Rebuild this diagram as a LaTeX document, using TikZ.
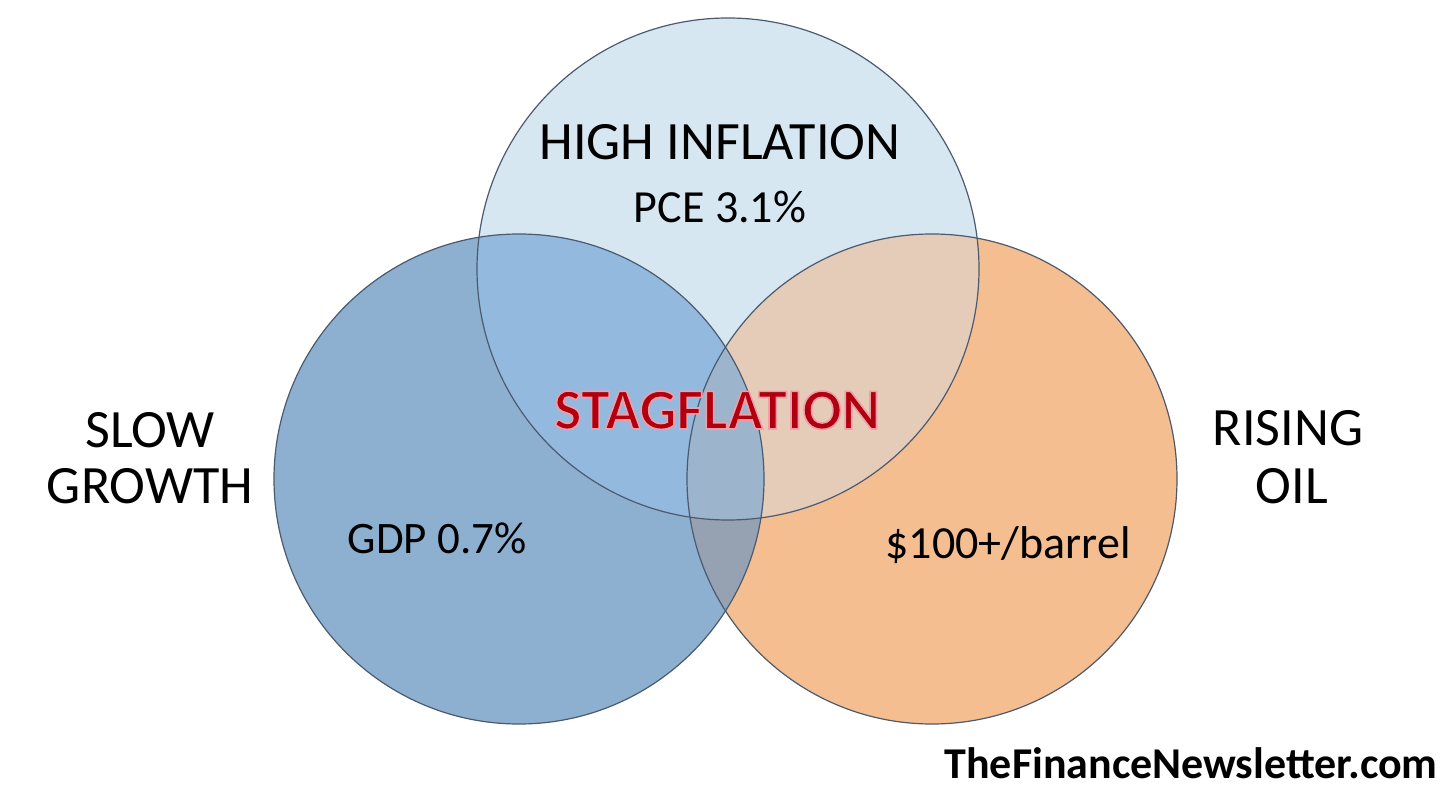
\documentclass[tikz,border=0pt]{standalone}
\usepackage{fontspec}
\setmainfont{Carlito}
\definecolor{cT}{RGB}{215,231,242}
\definecolor{cL}{RGB}{141,176,209}
\definecolor{cR}{RGB}{245,190,145}
\definecolor{cTL}{RGB}{148,185,222}
\definecolor{cTR}{RGB}{228,204,184}
\definecolor{cLR}{RGB}{150,162,177}
\definecolor{cTLR}{RGB}{156,180,204}
\definecolor{edge}{RGB}{75,90,110}
\definecolor{stag}{RGB}{176,0,16}
\tikzset{
  lbl/.style={inner sep=0pt, anchor=base, text=black},
  outline/.style={draw=edge, line width=1.2pt}
}
\newcommand{\bigtxt}{\fontsize{54}{56}\selectfont}
\newcommand{\midtxt}{\fontsize{46}{48}\selectfont}
\newcommand{\halotext}[1]{\special{pdf:code q 2 Tr 1.6 w 0.95 0.62 0.66 RG}#1\special{pdf:code Q}}
\begin{document}
\begin{tikzpicture}[x=1pt,y=-1pt]
\useasboundingbox (0,0) rectangle (1456,794);
\fill[white] (0,0) rectangle (1456,794);
% circle geometry
\coordinate (T) at (728,269);
\coordinate (L) at (519,479);
\coordinate (R) at (932,479);
% plain fills
\fill[cT] (T) circle (251);
\fill[cL] (L) circle (245);
\fill[cR] (R) circle (245);
% overlaps
\begin{scope}
  \clip (T) circle (251);
  \fill[cTL] (L) circle (245);
  \fill[cTR] (R) circle (245);
\end{scope}
\begin{scope}
  \clip (L) circle (245);
  \fill[cLR] (R) circle (245);
  \clip (R) circle (245);
  \fill[cTLR] (T) circle (251);
\end{scope}
% outlines
\draw[outline] (T) circle (251);
\draw[outline] (L) circle (245);
\draw[outline] (R) circle (245);
% labels
\node[lbl] (hi) at (720,160) {\bigtxt HIGH INFLATION};
\node[lbl] (pce) at (720,223) {\midtxt PCE 3.1\%};
\node[lbl] (slow) at (150,447) {\bigtxt SLOW};
\node[lbl] (growth) at (150,503) {\bigtxt GROWTH};
\node[lbl] (rising) at (1288,445) {\bigtxt RISING};
\node[lbl] (oil) at (1292,503) {\bigtxt OIL};
\node[lbl] (gdp) at (437,553) {\fontsize{45}{47}\selectfont GDP 0.7\%};
\node[lbl] (oilp) at (1008,558) {\midtxt \$100+/barrel};
\node[lbl, text=stag] (stagf) at (717,429) {\fontsize{58}{60}\selectfont\bfseries\halotext{STAGFLATION}};
\node[lbl, anchor=base east] (site) at (1438,778) {\fontsize{44}{46}\selectfont\bfseries TheFinanceNewsletter.com};
\end{tikzpicture}
\end{document}
